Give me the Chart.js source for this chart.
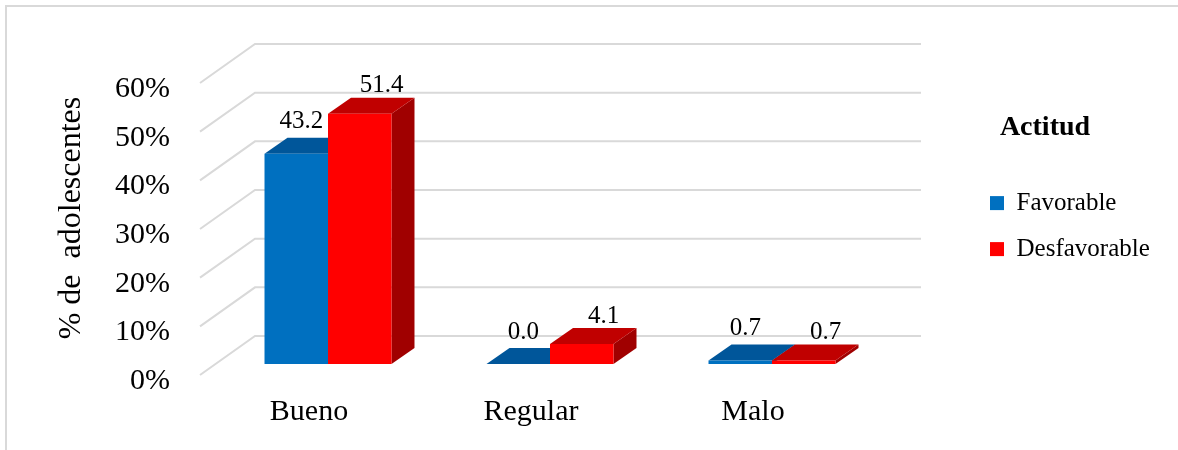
<!DOCTYPE html>
<html>
<head>
<meta charset="utf-8">
<script src="https://cdn.jsdelivr.net/npm/chart.js@4.4.1/dist/chart.umd.min.js"></script>
<style>
  html, body { margin: 0; padding: 0; background: #fff; }
  canvas { display: block; }
</style>
</head>
<body>
<canvas id="chart" width="1178" height="450"></canvas>
<script>
const categories = ['Bueno', 'Regular', 'Malo'];
const seriesNames = ['Favorable', 'Desfavorable'];
const favorable = [43.2, 0.0, 0.7];
const desfavorable = [51.4, 4.1, 0.7];
const yTickLabels = ['0%', '10%', '20%', '30%', '40%', '50%', '60%'];
const axisTitle = '% de  adolescentes';
const legendTitle = 'Actitud';

const FONT = "'Liberation Serif', 'Times New Roman', serif";
const frontColors = ['#0070c0', '#ff0000'];
const topColors = ['#00569a', '#c00000'];
const sideColors = ['#004a85', '#a00000'];
const gridColor = '#d9d9d9';

// fake 3d: depth of the bars, of the back wall and of the front edge
const barDX = 23, barDY = 16;
const wallDX = 38, wallDY = 28;
const frontDX = -17, frontDY = 11;
const labelDX = [5, 22], labelDY = [-32, -28];

// outer border + legend heading (the legend box clips long labels when
// its own title is centred, so the heading is drawn here)
const frame = {
  id: 'frame',
  beforeDraw(chart) {
    const ctx = chart.ctx;
    ctx.save();
    ctx.strokeStyle = gridColor;
    ctx.lineWidth = 2;
    ctx.beginPath();
    ctx.moveTo(6, chart.height);
    ctx.lineTo(6, 6);
    ctx.lineTo(chart.width, 6);
    ctx.stroke();
    ctx.restore();
  },
  afterDraw(chart) {
    const ctx = chart.ctx;
    ctx.save();
    ctx.font = 'bold 28px ' + FONT;
    ctx.fillStyle = '#000';
    ctx.textAlign = 'center';
    ctx.textBaseline = 'middle';
    ctx.fillText(legendTitle, 1045, 128);
    ctx.restore();
  }
};

const walls = {
  id: 'walls',
  beforeDatasetsDraw(chart) {
    const { ctx, chartArea, scales: { y } } = chart;
    ctx.save();
    ctx.strokeStyle = gridColor;
    ctx.lineWidth = 2;
    y.ticks.forEach(t => {
      const py = y.getPixelForValue(t.value);
      ctx.beginPath();
      ctx.moveTo(chartArea.left + frontDX, py + frontDY);
      ctx.lineTo(chartArea.left + wallDX, py - wallDY);
      ctx.lineTo(chartArea.right + wallDX, py - wallDY);
      ctx.stroke();
    });
    // tops and sides go first so the fronts drawn by chart.js cover them
    chart.data.datasets.forEach((ds, di) => {
      chart.getDatasetMeta(di).data.forEach(bar => {
        const { x, y: top, base, width } = bar.getProps(['x', 'y', 'base', 'width'], true);
        const l = x - width / 2, r = x + width / 2;
        ctx.fillStyle = sideColors[di];
        ctx.beginPath();
        ctx.moveTo(r, top);
        ctx.lineTo(r + barDX, top - barDY);
        ctx.lineTo(r + barDX, base - barDY);
        ctx.lineTo(r, base);
        ctx.closePath();
        ctx.fill();
        ctx.fillStyle = topColors[di];
        ctx.beginPath();
        ctx.moveTo(l, top);
        ctx.lineTo(r, top);
        ctx.lineTo(r + barDX, top - barDY);
        ctx.lineTo(l + barDX, top - barDY);
        ctx.closePath();
        ctx.fill();
      });
    });
    ctx.restore();
  }
};

const valueLabels = {
  id: 'valueLabels',
  afterDatasetsDraw(chart) {
    const ctx = chart.ctx;
    ctx.save();
    ctx.font = '25px ' + FONT;
    ctx.fillStyle = '#000';
    ctx.textAlign = 'center';
    ctx.textBaseline = 'middle';
    chart.data.datasets.forEach((ds, di) => {
      chart.getDatasetMeta(di).data.forEach((bar, i) => {
        ctx.fillText(ds.data[i].toFixed(1), bar.x + labelDX[di], bar.y + labelDY[di]);
      });
    });
    ctx.restore();
  }
};

new Chart(document.getElementById('chart'), {
  type: 'bar',
  data: {
    labels: categories,
    datasets: [
      { label: seriesNames[0], data: favorable, backgroundColor: frontColors[0], borderWidth: 0 },
      { label: seriesNames[1], data: desfavorable, backgroundColor: frontColors[1], borderWidth: 0 }
    ]
  },
  options: {
    responsive: false,
    animation: false,
    layout: { padding: { left: 48, top: 72, right: 24, bottom: 0 } },
    datasets: { bar: { categoryPercentage: 0.572, barPercentage: 1 } },
    scales: {
      x: {
        grid: { display: false, drawTicks: false },
        border: { display: false },
        ticks: { color: '#000', font: { family: FONT, size: 30 }, padding: 30, labelOffset: -19, maxRotation: 0 },
        afterFit: s => { s.height = 86; }
      },
      y: {
        min: 0,
        max: 60,
        grid: { display: false, drawTicks: false },
        border: { display: false },
        ticks: {
          stepSize: 10, color: '#000', font: { family: FONT, size: 30 },
          padding: 47, labelOffset: 17,
          callback: (v, i) => yTickLabels[i]
        },
        title: { display: true, text: axisTitle, color: '#000', font: { family: FONT, size: 32 }, padding: { top: 4, bottom: 4 } },
        afterFit: s => { s.width = 169; }
      },
      // empty axis, only keeps room between the plot and the legend
      gap: {
        position: 'right',
        grid: { display: false, drawTicks: false },
        border: { display: false },
        ticks: { display: false },
        afterFit: s => { s.width = 86; }
      }
    },
    plugins: {
      legend: {
        position: 'right',
        align: 'start',
        maxWidth: 185,
        // empty title only reserves the space above the items
        title: { display: true, text: '', font: { family: FONT, size: 28 }, padding: { top: 42, bottom: 22 } },
        labels: { color: '#000', font: { family: FONT, size: 25 }, boxWidth: 14, boxHeight: 14, padding: 21 }
      },
      tooltip: { enabled: false }
    }
  },
  plugins: [frame, walls, valueLabels]
});
</script>
</body>
</html>
